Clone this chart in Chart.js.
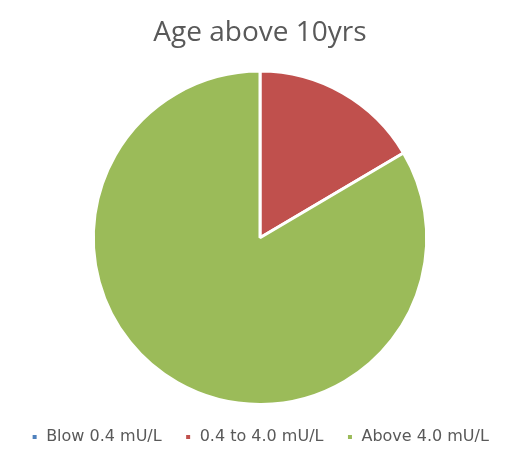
<!DOCTYPE html>
<html>
<head>
<meta charset="utf-8">
<script src="https://cdn.jsdelivr.net/npm/chart.js@4"></script>
<style>
  html, body { margin: 0; padding: 0; background: #fff; }
  #wrap { width: 513px; height: 457px; }
</style>
</head>
<body>
<div id="wrap"><canvas id="chart-age"></canvas></div>
<script>
const chartTitle = "Age above 10yrs";
const categories = ["Blow 0.4 mU/L", "0.4 to 4.0 mU/L", "Above 4.0 mU/L"];
const values = [0, 16.5, 83.5];
const colors = ["#4F81BD", "#C0504D", "#9BBB59"];

const ctx = document.getElementById("chart-age").getContext("2d");
new Chart(ctx, {
  type: "pie",
  data: {
    labels: categories,
    datasets: [
      {
        data: values,
        backgroundColor: colors,
        borderColor: "#ffffff",
        borderWidth: 3,
      },
    ],
  },
  options: {
    responsive: true,
    maintainAspectRatio: false,
    animation: false,
    layout: { padding: { left: 7, right: 0, top: 0, bottom: 2 } },
    plugins: {
      title: {
        display: true,
        text: chartTitle,
        color: "#595959",
        font: { family: "Open Sans", size: 28, weight: "normal" },
        padding: { top: 16, bottom: 20 },
      },
      legend: {
        position: "bottom",
        labels: {
          color: "#595959",
          font: { family: "DejaVu Sans", size: 16 },
          boxWidth: 7,
          boxHeight: 7,
          padding: 23,
        },
      },
      tooltip: { enabled: false },
    },
  },
});
</script>
</body>
</html>
